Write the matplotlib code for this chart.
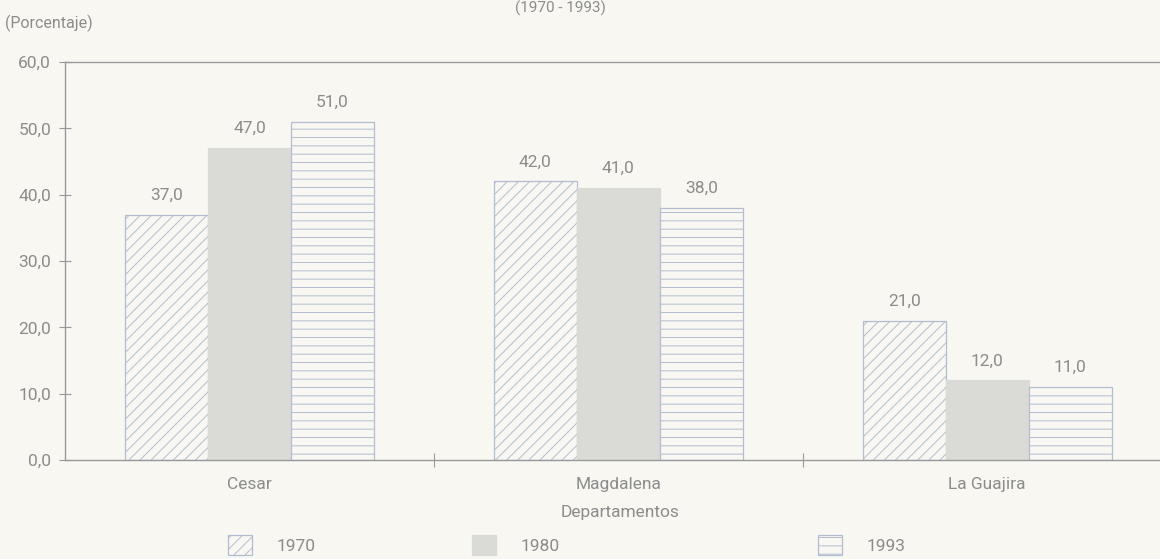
import matplotlib
matplotlib.use("Agg")
import matplotlib.pyplot as plt
import numpy as np
from matplotlib.patches import Patch

# Data
departamentos = ["Cesar", "Magdalena", "La Guajira"]
anios = ["1970", "1980", "1993"]
v1970 = [37.0, 42.0, 21.0]
v1980 = [47.0, 41.0, 12.0]
v1993 = [51.0, 38.0, 11.0]
yticks = [0, 10, 20, 30, 40, 50, 60]

plt.rcParams['font.family'] = ['Roboto', 'DejaVu Sans']
plt.rcParams['hatch.linewidth'] = 0.7

bg = "#f8f7f2"
txt = "#8c8c8c"
edge = "#b3bdd0"
gray_fill = "#dadad6"
fs = 12.5

fig = plt.figure(figsize=(11.6, 5.59), dpi=100, facecolor=bg)
ax = fig.add_axes([65/1160, 99/559, 1 - 65/1160 + 0.01, 398/559], facecolor=bg)

x = np.arange(len(departamentos)) + 0.5
w = 0.225
series = [v1970, v1980, v1993]
styles = [
    dict(facecolor=bg, edgecolor=edge, hatch="///", linewidth=0.9),
    dict(facecolor=gray_fill, edgecolor=gray_fill, linewidth=0.9),
    dict(facecolor=bg, edgecolor=edge, hatch="--", linewidth=0.9),
]
for i, (vals, st) in enumerate(zip(series, styles)):
    bars = ax.bar(x + (i - 1) * w, vals, width=w, **st)
    for b, v in zip(bars, vals):
        ax.text(b.get_x() + b.get_width() / 2, v + 1.8, f"{v:.1f}".replace(".", ","),
                ha="center", va="bottom", color=txt, fontsize=fs)

ax.set_xlim(0, 3)
ax.set_ylim(0, 60)
ax.set_yticks(yticks)
ax.set_yticklabels([f"{t:.1f}".replace(".", ",") for t in yticks], color=txt, fontsize=fs)
ax.set_xticks([1, 2])
ax.set_xticklabels([])
for xi, name in zip(x, departamentos):
    ax.text(xi, -2.5, name, ha="center", va="top", color=txt, fontsize=fs)

ax.tick_params(axis="y", direction="inout", length=8, color="#999999", pad=6)
ax.tick_params(axis="x", direction="inout", length=10, color="#999999")
for s in ["left", "bottom", "top"]:
    ax.spines[s].set_color("#999999")
    ax.spines[s].set_linewidth(1.0)
ax.spines["right"].set_visible(False)

fig.text(620/1160, 1 - 512/559, "Departamentos", ha="center", va="center", color=txt, fontsize=fs)
fig.text(5/1160, 1 - 23/559, "(Porcentaje)", ha="left", va="center", color=txt, fontsize=11.5)
fig.text(560/1160, 1 - 1/559, "(1970 - 1993)", ha="center", va="top", color=txt, fontsize=11)

# Legend entries placed individually along the bottom
legend_x = [228/1160, 472/1160, 818/1160]
for lx, lab, st in zip(legend_x, anios, styles):
    h = Patch(**st)
    leg = fig.legend(handles=[h], labels=[lab], loc="center left",
                     bbox_to_anchor=(lx, 1 - 545/559), frameon=False,
                     handlelength=1.4, handleheight=1.4, handletextpad=1.4,
                     borderpad=0, borderaxespad=0, fontsize=fs)
    for t in leg.get_texts():
        t.set_color(txt)

fig.savefig("out.png", dpi=100, facecolor=bg)
